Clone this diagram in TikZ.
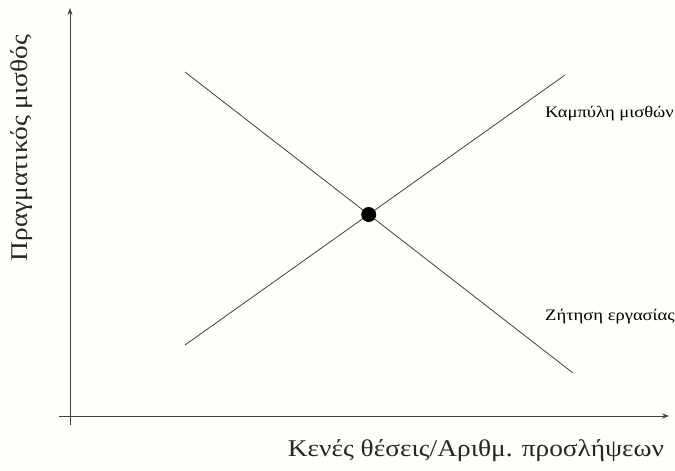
\documentclass[tikz,border=0pt]{standalone}
\usepackage{fontspec}
\setmainfont{Liberation Serif}
\newfontfamily\axfont[FakeStretch=1.14]{Liberation Serif}
\newfontfamily\lblfont[FakeStretch=1.16]{Liberation Serif}
\usetikzlibrary{arrows.meta}
\definecolor{ink}{HTML}{404040}
\definecolor{bg}{HTML}{FFFEFB}
\begin{document}
\begin{tikzpicture}[x=1pt,y=-1pt,
  axis/.style={draw=ink,line width=0.8pt,-{Stealth[length=7pt,width=5pt]}},
  curve/.style={draw=ink,line width=0.8pt},
  lbl/.style={inner sep=0pt,font=\lblfont\fontsize{16}{18}\selectfont,anchor=west},
  axlbl/.style={inner sep=0pt,font=\axfont\fontsize{24}{27}\selectfont,text=black!85}]
\fill[bg] (0,0) rectangle (675,471);
\useasboundingbox (0,0) rectangle (675,471);
% axes
\coordinate (yb) at (70,425);
\coordinate (yt) at (70,8);
\coordinate (xl) at (59,416);
\coordinate (xr) at (669,416);
\draw[axis] (yb) -- (yt);
\draw[axis] (xl) -- (xr);
% curves
\coordinate (s1) at (185,345);
\coordinate (s2) at (565,75);
\coordinate (d1) at (185,72);
\coordinate (d2) at (573,373);
\draw[curve] (s1) -- (s2);
\draw[curve] (d1) -- (d2);
\node[circle,fill=black,minimum size=15pt,inner sep=0pt] (eq) at (368.7,214.5) {};
% labels
\node[lbl] (wage) at (545,114) {Καμπύλη μισθών};
\node[lbl] (dem) at (545,317) {Ζήτηση εργασίας};
\node[axlbl] (xlab) at (476,451) {Κενές θέσεις/Αριθμ. προσλήψεων};
\node[axlbl,rotate=90] (ylab) at (22,148) {Πραγματικός μισθός};
\end{tikzpicture}
\end{document}
